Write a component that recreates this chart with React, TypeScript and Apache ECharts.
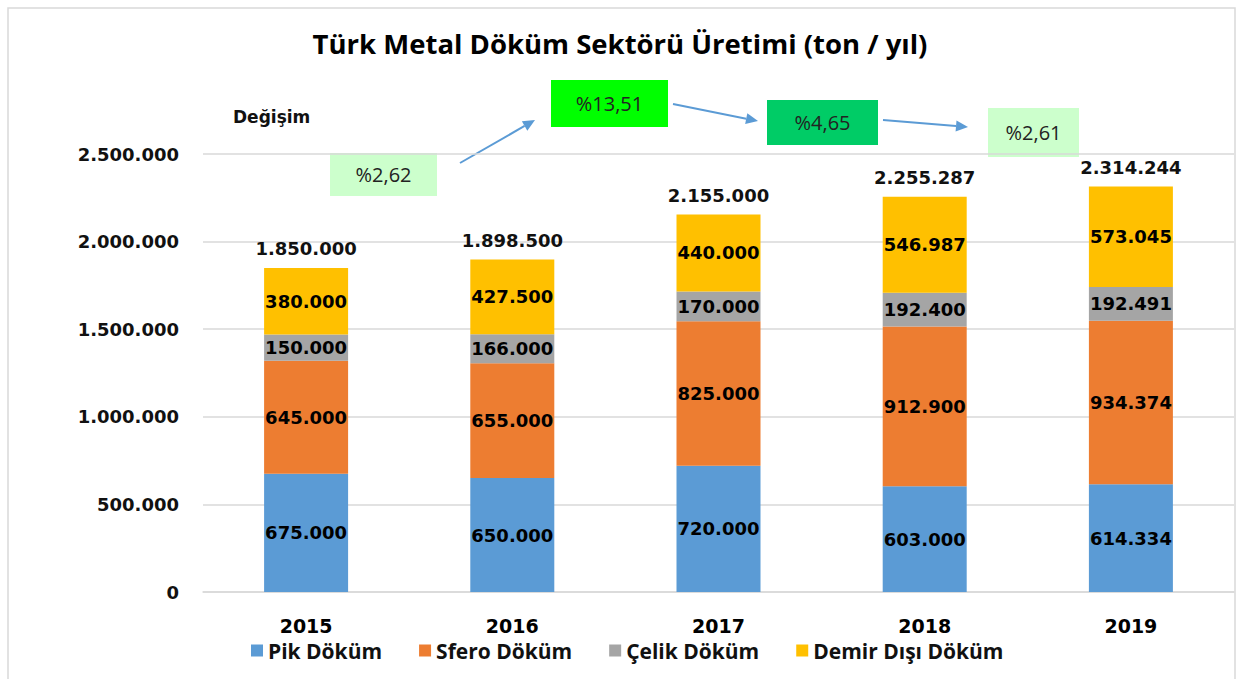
import React, { useEffect, useRef } from "react";
import * as echarts from "echarts";

const years = ["2015", "2016", "2017", "2018", "2019"];
const pik = [675000, 650000, 720000, 603000, 614334];
const sfero = [645000, 655000, 825000, 912900, 934374];
const celik = [150000, 166000, 170000, 192400, 192491];
const demir = [380000, 427500, 440000, 546987, 573045];
const totals = [1850000, 1898500, 2155000, 2255287, 2314244];
const seriesNames = ["Pik Döküm", "Sfero Döküm", "Çelik Döküm", "Demir Dışı Döküm"];
const seriesColors = ["#5b9bd5", "#ed7d31", "#a5a5a5", "#ffc000"];
const changes = ["%2,62", "%13,51", "%4,65", "%2,61"];

const fmt = (v: number) =>
  String(Math.round(v)).replace(/\B(?=(\d{3})+(?!\d))/g, ".");

const NUM_FONT = "DejaVu Sans";
const TXT_FONT = "Open Sans";

function arrow(x1: number, y1: number, x2: number, y2: number) {
  const dx = x2 - x1;
  const dy = y2 - y1;
  const len = Math.sqrt(dx * dx + dy * dy);
  const ux = dx / len;
  const uy = dy / len;
  const hl = 12;
  const hw = 5.5;
  const bx = x2 - ux * hl;
  const by = y2 - uy * hl;
  const px = -uy;
  const py = ux;
  return [
    {
      type: "line",
      shape: { x1, y1, x2: bx, y2: by },
      style: { stroke: "#5b9bd5", lineWidth: 2 },
    },
    {
      type: "polygon",
      shape: {
        points: [
          [x2, y2],
          [bx + px * hw, by + py * hw],
          [bx - px * hw, by - py * hw],
        ],
      },
      style: { fill: "#5b9bd5" },
    },
  ];
}

function box(x: number, y: number, w: number, h: number, fill: string, text: string) {
  return [
    { type: "rect", shape: { x, y, width: w, height: h }, style: { fill } },
    {
      type: "text",
      x: x + w / 2,
      y: y + h / 2,
      style: {
        text,
        fill: "#222",
        font: `20px '${TXT_FONT}'`,
        align: "center",
        verticalAlign: "middle",
      },
    },
  ];
}

export default function App() {
  const ref = useRef<HTMLDivElement>(null);
  useEffect(() => {
    if (!ref.current) return;
    const chart = echarts.init(ref.current, undefined, { renderer: "svg" });
    const segLabel = {
      show: true,
      position: "inside",
      color: "#000",
      fontFamily: NUM_FONT,
      fontWeight: "bold",
      fontSize: 18,
      formatter: (p: any) => fmt(p.value),
    };
    const stacks = [pik, sfero, celik, demir].map((d, i) => ({
      name: seriesNames[i],
      type: "bar",
      stack: "total",
      data: d,
      barWidth: 84,
      barGap: "-100%",
      itemStyle: { color: seriesColors[i] },
      label: segLabel,
    }));
    chart.setOption({
      animation: false,
      backgroundColor: "#fff",
      title: {
        text: "Türk Metal Döküm Sektörü Üretimi (ton / yıl)",
        left: "center",
        top: 24,
        textStyle: {
          fontFamily: TXT_FONT,
          fontWeight: "bold",
          fontSize: 27.5,
          color: "#000",
        },
      },
      legend: {
        data: seriesNames,
        left: 246,
        top: 635,
        icon: "rect",
        itemWidth: 12,
        itemHeight: 12,
        itemGap: 37,
        textStyle: {
          fontFamily: TXT_FONT,
          fontWeight: "bold",
          fontSize: 21,
          color: "#111",
        },
      },
      grid: { left: 203, right: 6, top: 154, bottom: 87, containLabel: false },
      xAxis: {
        type: "category",
        data: years,
        axisLine: { lineStyle: { color: "#d9d9d9", width: 1.5 } },
        axisTick: { show: false },
        axisLabel: {
          color: "#000",
          fontFamily: NUM_FONT,
          fontWeight: "bold",
          fontSize: 19,
          margin: 24,
        },
      },
      yAxis: {
        type: "value",
        min: 0,
        max: 2500000,
        interval: 500000,
        axisLine: { show: false },
        axisTick: { show: false },
        splitLine: { lineStyle: { color: "#d9d9d9", width: 1.5 } },
        axisLabel: {
          color: "#111",
          fontFamily: NUM_FONT,
          fontWeight: "bold",
          fontSize: 18,
          margin: 24,
          formatter: (v: number) => fmt(v),
        },
      },
      series: [
        ...stacks,
        {
          name: "Toplam",
          type: "bar",
          data: totals,
          barWidth: 84,
          barGap: "-100%",
          itemStyle: { color: "rgba(0,0,0,0)" },
          label: {
            show: true,
            position: "top",
            distance: 10,
            color: "#111",
            fontFamily: NUM_FONT,
            fontWeight: "bold",
            fontSize: 18,
            formatter: (p: any) => fmt(p.value),
          },
          z: 5,
        },
      ],
      graphic: [
        {
          type: "rect",
          shape: { x: 8, y: 8, width: 1227, height: 700 },
          style: { fill: "none", stroke: "#d9d9d9", lineWidth: 1.5 },
          silent: true,
        },
        {
          type: "text",
          x: 233,
          y: 117,
          style: {
            text: "Değişim",
            fill: "#111",
            font: `bold 17px '${NUM_FONT}'`,
            verticalAlign: "middle",
          },
        },
        ...box(330, 153, 107, 43, "#ccffcc", changes[0]),
        ...box(551, 80, 117, 47, "#00ff00", changes[1]),
        ...box(767, 100, 111, 45, "#00cc66", changes[2]),
        ...box(988, 108, 91, 49, "#ccffcc", changes[3]),
        ...arrow(460, 163, 535, 120),
        ...arrow(673, 104, 758, 121),
        ...arrow(883, 120, 968, 127),
      ],
    });
    return () => chart.dispose();
  }, []);
  return (
    <div
      ref={ref}
      style={{ position: "fixed", left: 0, top: 0, width: 1240, height: 679 }}
    />
  );
}
